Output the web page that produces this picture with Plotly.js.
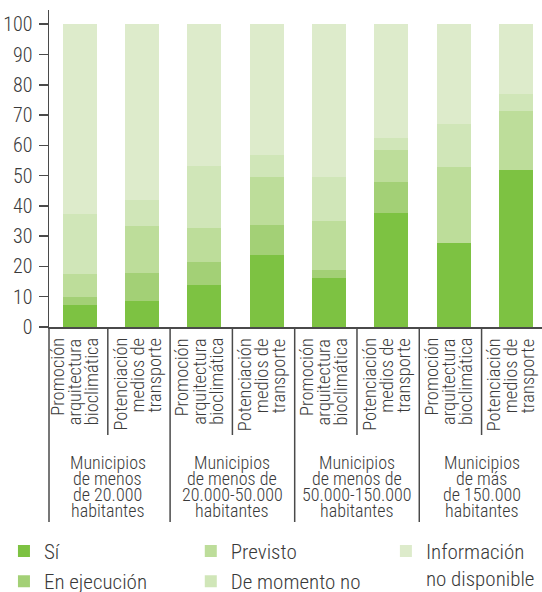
<!DOCTYPE html>
<html>
<head>
<meta charset="utf-8">
<script src="https://cdn.plot.ly/plotly-3.0.1.min.js"></script>
<style>html,body{margin:0;padding:0;background:#fff;}#chart{width:542px;height:592px;}</style>
</head>
<body>
<div id="chart"></div>
<script>
// ---- data ----
const groupLabels = [
  "Municipios\nde menos\nde 20.000\nhabitantes",
  "Municipios\nde menos de\n20.000-50.000\nhabitantes",
  "Municipios\nde menos de\n50.000-150.000\nhabitantes",
  "Municipios\nde más\nde 150.000\nhabitantes"
];
const subLabels = [
  "Promoción\narquitectura\nbioclimática",
  "Potenciación\nmedios de\ntransporte"
];
const seriesNames = ["Sí", "En ejecución", "Previsto", "De momento no", "Información<br>no disponible"];
const si          = [7.3, 8.6, 13.9, 23.8, 16.2, 37.7, 27.8, 51.9];
const enEjecucion = [2.6, 9.2, 7.6, 9.9, 2.6, 10.2, 0, 0];
const previsto    = [7.6, 15.6, 11.2, 15.9, 16.2, 10.6, 25.1, 19.5];
const deMomentoNo = [19.8, 8.6, 20.5, 7.2, 14.6, 3.9, 14.2, 5.6];
const infoNoDisp  = [62.7, 58.0, 46.8, 43.2, 50.4, 37.6, 32.9, 23.0];
const yTicks = [0, 10, 20, 30, 40, 50, 60, 70, 80, 90, 100];

// ---- build ----
const FONT = '"Roboto Condensed", "Liberation Sans Narrow", "Arial Narrow", Roboto, "DejaVu Sans Condensed", sans-serif';
const TXT = '#3a3a3a';
const LINE = '#4a4a4a';
const colors = ['#7dc242', '#a3d076', '#bddd9a', '#d0e6b8', '#ddebcb'];
const legendIds = ['legend', 'legend', 'legend2', 'legend2', 'legend3'];
const fnt = (size) => ({family: FONT, size: size, color: TXT, stretch: 'condensed', weight: 300});

const xKeys = [];
groupLabels.forEach(g => subLabels.forEach(s => {
  xKeys.push(g.replace(/\n/g, ' ') + ' · ' + s.replace(/\n/g, ' '));
}));

const values = [si, enEjecucion, previsto, deMomentoNo, infoNoDisp];
const traces = values.map((v, k) => ({
  type: 'bar',
  name: seriesNames[k],
  x: xKeys,
  y: v,
  width: 0.546,
  marker: {color: colors[k], line: {width: 0}},
  legend: legendIds[k],
  hoverinfo: 'x+y+name'
}));

const annotations = [];
// rotated sub labels
xKeys.forEach((key, i) => {
  const lines = subLabels[i % subLabels.length].split('\n');
  const n = lines.length;
  lines.forEach((ln, j) => {
    annotations.push({
      xref: 'x', yref: 'paper', x: i, y: 0,
      xanchor: 'center', yanchor: 'top',
      xshift: (j - (n - 1) / 2) * 17 - 5, yshift: -9,
      textangle: -90, showarrow: false, text: ln,
      font: fnt(18.5)
    });
  });
});
// group labels
groupLabels.forEach((g, gi) => {
  g.split('\n').forEach((ln, j) => {
    annotations.push({
      xref: 'x', yref: 'paper', x: gi * subLabels.length + 0.45, y: 0,
      xanchor: 'center', yanchor: 'middle', yshift: -(135 + 16 * j),
      showarrow: false, text: ln,
      font: fnt(18)
    });
  });
});

// divider lines under the axis
const shapes = [];
const pxPerPaper = 317;
for (let i = 0; i < xKeys.length - 1; i++) {
  const isGroup = (i % subLabels.length) === subLabels.length - 1;
  shapes.push({
    type: 'line', xref: 'x', yref: 'paper',
    x0: i + 0.45, x1: i + 0.45, y0: 0,
    y1: isGroup ? -195 / pxPerPaper : -108 / pxPerPaper,
    line: {color: LINE, width: 1.5}
  });
}
shapes.push({
  type: 'line', xref: 'paper', yref: 'paper', x0: 0, x1: 0, y0: 0, y1: -195 / pxPerPaper,
  line: {color: LINE, width: 1.5}
});

const legendBase = {
  orientation: 'v', xref: 'container', yref: 'container',
  yanchor: 'top', xanchor: 'left', y: 0.1035,
  bgcolor: 'rgba(0,0,0,0)', borderwidth: 0, valign: 'top',
  font: fnt(21), traceorder: 'normal', tracegroupgap: 0
};

const layout = {
  width: 542, height: 592,
  margin: {l: 49, r: 0, t: 10, b: 265, pad: 0, autoexpand: false},
  paper_bgcolor: '#ffffff', plot_bgcolor: '#ffffff',
  barmode: 'stack',
  font: {family: FONT, color: TXT},
  showlegend: true,
  legend: Object.assign({}, legendBase, {x: 0.0073}),
  legend2: Object.assign({}, legendBase, {x: 0.352}),
  legend3: Object.assign({}, legendBase, {x: 0.712}),
  xaxis: {
    type: 'category', range: [-0.494, 7.42],
    showticklabels: false, ticks: '', showgrid: false, zeroline: false,
    showline: true, linecolor: LINE, linewidth: 1.5, fixedrange: true
  },
  yaxis: {
    range: [0, 104.7], tickmode: 'array', tickvals: yTicks, ticktext: yTicks.map(String),
    ticks: 'outside', ticklen: 9, tickwidth: 1.5, tickcolor: LINE,
    showline: true, linecolor: LINE, linewidth: 1.5,
    showgrid: false, zeroline: false, ticklabelstandoff: 2,
    tickfont: fnt(20), fixedrange: true
  },
  annotations: annotations,
  shapes: shapes
};

Plotly.newPlot('chart', traces, layout, {displayModeBar: false, staticPlot: true});
</script>
</body>
</html>
